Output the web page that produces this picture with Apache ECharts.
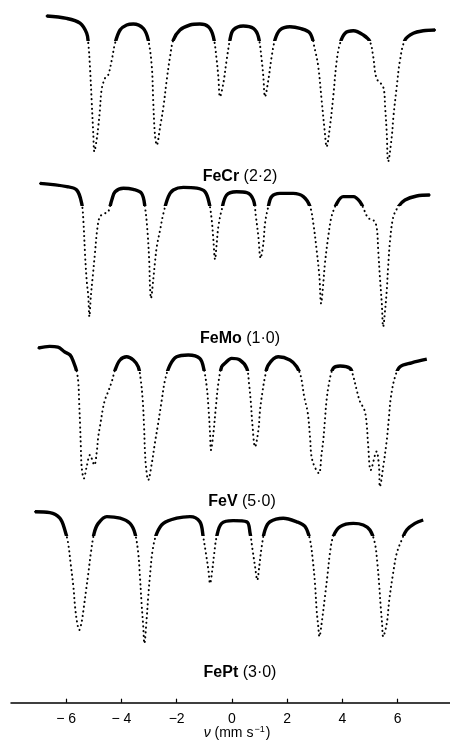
<!DOCTYPE html>
<html><head><meta charset="utf-8">
<script src="https://cdn.jsdelivr.net/npm/echarts@6/dist/echarts.min.js"></script>
<style>html,body{margin:0;padding:0;background:#fff}#c{width:450px;height:750px}</style>
</head><body><div id="c"></div>
<script>
// Mössbauer spectra: velocity v (mm/s), relative transmission T (%)
const sampleNames = ['FeCr', 'FeMo', 'FeV', 'FePt'];
const sampleConc = ['(2·2)', '(1·0)', '(5·0)', '(3·0)'];
const tickValues = [-6, -4, -2, 0, 2, 4, 6];
const axisTitle = 'ν';

const feCr = [[-6.71,98.5],[-5.98,97.9],[-5.50,96.7],[-5.26,94.2],[-5.20,91.7],[-5.14,85.8],[-5.08,77.5],[-5.02,69.2],[-4.98,64.6],[-4.90,67.5],[-4.84,70.8],[-4.78,75.0],[-4.72,80.0],[-4.60,82.9],[-4.48,83.75],[-4.35,87.5],[-4.23,91.7],[-4.05,95.0],[-3.81,96.25],[-3.57,96.5],[-3.21,95.4],[-3.03,92.5],[-2.90,85.8],[-2.85,77.5],[-2.79,69.2],[-2.72,66.25],[-2.60,70.8],[-2.48,75.8],[-2.36,82.5],[-2.24,88.3],[-2.12,92.5],[-1.88,95.0],[-1.52,96.25],[-1.16,96.5],[-0.85,95.8],[-0.67,93.3],[-0.55,87.5],[-0.49,83.3],[-0.43,78.3],[-0.31,81.7],[-0.19,87.5],[-0.07,92.5],[0.05,95.0],[0.41,96.0],[0.78,95.4],[0.96,93.3],[1.08,87.5],[1.14,83.3],[1.20,78.3],[1.32,82.5],[1.44,88.3],[1.56,92.5],[1.74,95.0],[2.10,95.8],[2.47,95.4],[2.83,94.2],[3.01,90.0],[3.13,85.8],[3.25,77.5],[3.37,69.2],[3.43,65.8],[3.55,70.8],[3.67,78.3],[3.80,87.5],[3.92,91.7],[4.10,94.2],[4.40,94.8],[4.76,93.75],[5.00,92.1],[5.12,88.3],[5.24,82.9],[5.48,80.8],[5.55,75.8],[5.61,69.2],[5.66,62.1],[5.79,68.3],[5.85,73.3],[5.97,80.8],[6.09,87.5],[6.27,92.5],[6.57,94.2],[6.93,94.8],[7.36,95.0]];

const feMo = [[-6.95,97.9],[-5.98,97.1],[-5.62,96.25],[-5.44,92.9],[-5.38,88.75],[-5.32,80.4],[-5.26,73.75],[-5.20,69.6],[-5.16,64.6],[-5.11,69.6],[-5.04,74.6],[-4.96,80.4],[-4.88,86.25],[-4.78,89.6],[-4.60,90.4],[-4.48,90.8],[-4.35,93.75],[-4.23,95.8],[-3.93,96.7],[-3.57,96.4],[-3.27,95.4],[-3.15,92.1],[-3.06,86.25],[-2.99,77.9],[-2.97,72.9],[-2.93,69.2],[-2.85,73.75],[-2.79,77.9],[-2.72,82.1],[-2.60,86.25],[-2.48,90.4],[-2.30,94.6],[-2.12,96.25],[-1.76,96.9],[-1.27,96.7],[-0.97,95.8],[-0.82,92.9],[-0.73,88.75],[-0.67,83.75],[-0.61,78.9],[-0.55,82.9],[-0.49,87.1],[-0.37,91.25],[-0.19,95.0],[0.17,95.8],[0.54,95.6],[0.78,93.75],[0.87,89.6],[0.96,84.6],[1.04,79.2],[1.14,82.9],[1.20,87.9],[1.32,92.1],[1.44,94.6],[1.74,95.4],[2.22,95.4],[2.59,94.6],[2.83,92.1],[2.95,87.9],[3.07,81.25],[3.17,74.6],[3.23,67.9],[3.31,72.9],[3.37,77.9],[3.49,84.6],[3.61,89.6],[3.80,92.9],[4.03,94.6],[4.40,94.6],[4.64,93.3],[4.82,90.8],[4.94,89.2],[5.12,88.75],[5.24,87.1],[5.30,81.25],[5.36,74.6],[5.43,67.9],[5.48,62.1],[5.55,66.25],[5.61,71.25],[5.66,77.1],[5.73,83.75],[5.85,89.6],[6.03,92.1],[6.27,93.75],[6.69,94.75],[7.17,95.0]];

const feV = [[-7.01,98.0],[-6.6,98.4],[-6.3,98.2],[-6.05,97.0],[-5.86,96.25],[-5.74,94.6],[-5.62,92.1],[-5.56,89.2],[-5.53,84.2],[-5.50,79.2],[-5.47,73.3],[-5.44,68.3],[-5.36,65.4],[-5.26,68.3],[-5.14,71.25],[-4.98,68.75],[-4.90,71.7],[-4.84,75.8],[-4.78,78.3],[-4.68,82.5],[-4.60,85.0],[-4.48,87.1],[-4.35,89.6],[-4.23,92.5],[-4.05,95.0],[-3.81,95.8],[-3.57,95.0],[-3.39,93.3],[-3.30,90.0],[-3.23,85.0],[-3.18,78.3],[-3.15,72.5],[-3.11,68.3],[-3.03,65.0],[-2.90,69.2],[-2.79,74.2],[-2.67,79.2],[-2.54,85.0],[-2.42,90.0],[-2.24,93.75],[-2.00,95.8],[-1.58,96.25],[-1.16,95.4],[-1.01,92.5],[-0.91,88.3],[-0.85,83.3],[-0.79,76.7],[-0.76,72.5],[-0.67,76.7],[-0.58,83.3],[-0.49,89.2],[-0.37,93.3],[-0.25,94.2],[-0.01,95.4],[0.29,95.0],[0.54,92.9],[0.62,89.2],[0.69,84.2],[0.74,79.2],[0.84,73.3],[0.96,77.5],[1.02,82.5],[1.10,86.7],[1.20,90.8],[1.32,93.75],[1.68,95.8],[2.10,95.0],[2.35,93.3],[2.50,90.8],[2.62,85.8],[2.75,81.7],[2.83,75.8],[2.91,70.0],[3.15,66.7],[3.25,71.7],[3.31,75.0],[3.37,80.0],[3.43,85.0],[3.52,89.2],[3.67,92.9],[3.92,93.5],[4.28,92.9],[4.40,90.8],[4.52,87.5],[4.64,84.6],[4.80,82.5],[4.88,79.2],[4.94,73.3],[5.03,67.5],[5.24,72.1],[5.33,68.3],[5.36,63.3],[5.48,68.3],[5.61,75.0],[5.69,80.8],[5.76,85.8],[5.91,90.8],[6.09,93.3],[6.51,94.3],[7.06,95.2]];

const fePt = [[-7.13,98.3],[-6.59,98.1],[-6.23,96.7],[-6.05,93.75],[-5.93,90.4],[-5.84,85.4],[-5.74,79.6],[-5.68,74.6],[-5.60,70.4],[-5.53,68.75],[-5.44,70.8],[-5.36,74.6],[-5.28,78.75],[-5.20,82.9],[-5.11,87.9],[-4.99,92.9],[-4.84,95.4],[-4.53,97.1],[-4.05,96.7],[-3.69,95.4],[-3.51,92.9],[-3.39,87.9],[-3.33,82.1],[-3.27,75.4],[-3.21,69.6],[-3.17,65.4],[-3.09,71.25],[-3.03,77.1],[-2.97,82.1],[-2.87,88.75],[-2.72,92.9],[-2.48,95.4],[-2.00,96.7],[-1.52,97.1],[-1.16,95.8],[-1.04,92.1],[-0.94,87.9],[-0.85,83.75],[-0.79,80.4],[-0.71,83.75],[-0.64,87.9],[-0.55,92.1],[-0.37,95.4],[0.05,96.1],[0.54,95.8],[0.66,92.9],[0.75,88.75],[0.84,84.6],[0.92,81.25],[0.99,84.6],[1.08,89.6],[1.20,93.75],[1.38,95.8],[1.86,96.7],[2.35,95.8],[2.65,94.6],[2.83,91.25],[2.93,86.25],[3.01,80.4],[3.07,73.75],[3.13,69.6],[3.17,67.1],[3.25,70.4],[3.37,77.1],[3.47,82.9],[3.55,87.9],[3.67,92.1],[3.92,94.6],[4.40,95.4],[4.76,95.0],[5.00,93.75],[5.18,90.4],[5.27,85.4],[5.34,79.6],[5.39,74.6],[5.44,70.4],[5.48,67.1],[5.61,70.4],[5.70,76.25],[5.82,82.1],[5.97,87.9],[6.15,91.25],[6.33,93.75],[6.63,95.4],[6.93,96.25]];

const spectra = [feCr, feMo, feV, fePt];

const chart = echarts.init(document.getElementById('c'), null, {renderer: 'canvas'});
const FONT = '"Liberation Sans", Arial, sans-serif';
const gridTops = [10, 175, 340, 505];
const GRID_H = 160;
const labelPos = [[240, 177], [240, 339], [242, 502], [240, 673]];

const grids = gridTops.map(t => ({left: 11, right: 0, top: t, height: GRID_H}));
const xAxes = gridTops.map((t, i) => ({
  type: 'value', gridIndex: i, min: -8, max: 7.9, interval: 2,
  show: i === 3, offset: i === 3 ? 37.7 : 0,
  axisLine: {show: true, onZero: false, lineStyle: {color: '#000', width: 1.5}},
  axisTick: {show: true, inside: true, length: 4, customValues: tickValues, lineStyle: {color: '#000', width: 1.2}},
  axisLabel: {show: true, customValues: tickValues, color: '#000', fontSize: 14, fontFamily: FONT, margin: 9,
    formatter: v => v < 0 ? (v === -2 ? '−2' : '− ' + Math.abs(v)) : String(v)},
  splitLine: {show: false}
}));
const yAxes = gridTops.map((t, i) => ({type: 'value', gridIndex: i, min: 60, max: 100, show: false, splitLine: {show: false}}));

// thick "noisy" baseline: only the upper part of each trace is drawn solid (pixel gradient)
function baselineColor(top) {
  const cut = top + (100 - 92.3) * GRID_H / 40;
  return new echarts.graphic.LinearGradient(0, 0, 0, top + GRID_H, [
    {offset: cut / (top + GRID_H), color: 'rgba(0,0,0,1)'},
    {offset: Math.min(1, (cut + 0.5) / (top + GRID_H)), color: 'rgba(0,0,0,0)'}
  ], true);
}

const series = [];
spectra.forEach((d, i) => {
  series.push({type: 'line', xAxisIndex: i, yAxisIndex: i, data: d, smooth: 0.35, showSymbol: false, silent: true,
    lineStyle: {color: baselineColor(gridTops[i]), width: 3.4}});
});
spectra.forEach((d, i) => {
  series.push({type: 'line', xAxisIndex: i, yAxisIndex: i, data: d, smooth: 0.35, showSymbol: false, silent: true,
    lineStyle: {color: '#000', width: 2, type: [0.2, 4.5], cap: 'round'}});
});

const graphics = sampleNames.map((n, i) => ({
  type: 'text', x: labelPos[i][0], y: labelPos[i][1],
  style: {text: '{b|' + n + '}{r| ' + sampleConc[i] + '}', align: 'center', verticalAlign: 'middle',
    rich: {b: {fontFamily: FONT, fontWeight: 'bold', fontSize: 16, fill: '#000'}, r: {fontFamily: FONT, fontSize: 16, fill: '#000'}}}
}));
graphics.push({type: 'text', x: 237, y: 733,
  style: {text: '{i|' + axisTitle + '}{r| (mm s}{s|−1}{r|)}', align: 'center', verticalAlign: 'middle',
    rich: {i: {fontFamily: FONT, fontStyle: 'italic', fontSize: 14, fill: '#000'}, r: {fontFamily: FONT, fontSize: 14, fill: '#000'},
      s: {fontFamily: FONT, fontSize: 9, fill: '#000', verticalAlign: 'top', padding: [0, 1, 6, 1]}}}});

chart.setOption({
  animation: false, backgroundColor: '#fff',
  grid: grids, xAxis: xAxes, yAxis: yAxes, series: series, graphic: graphics
});
</script></body></html>
